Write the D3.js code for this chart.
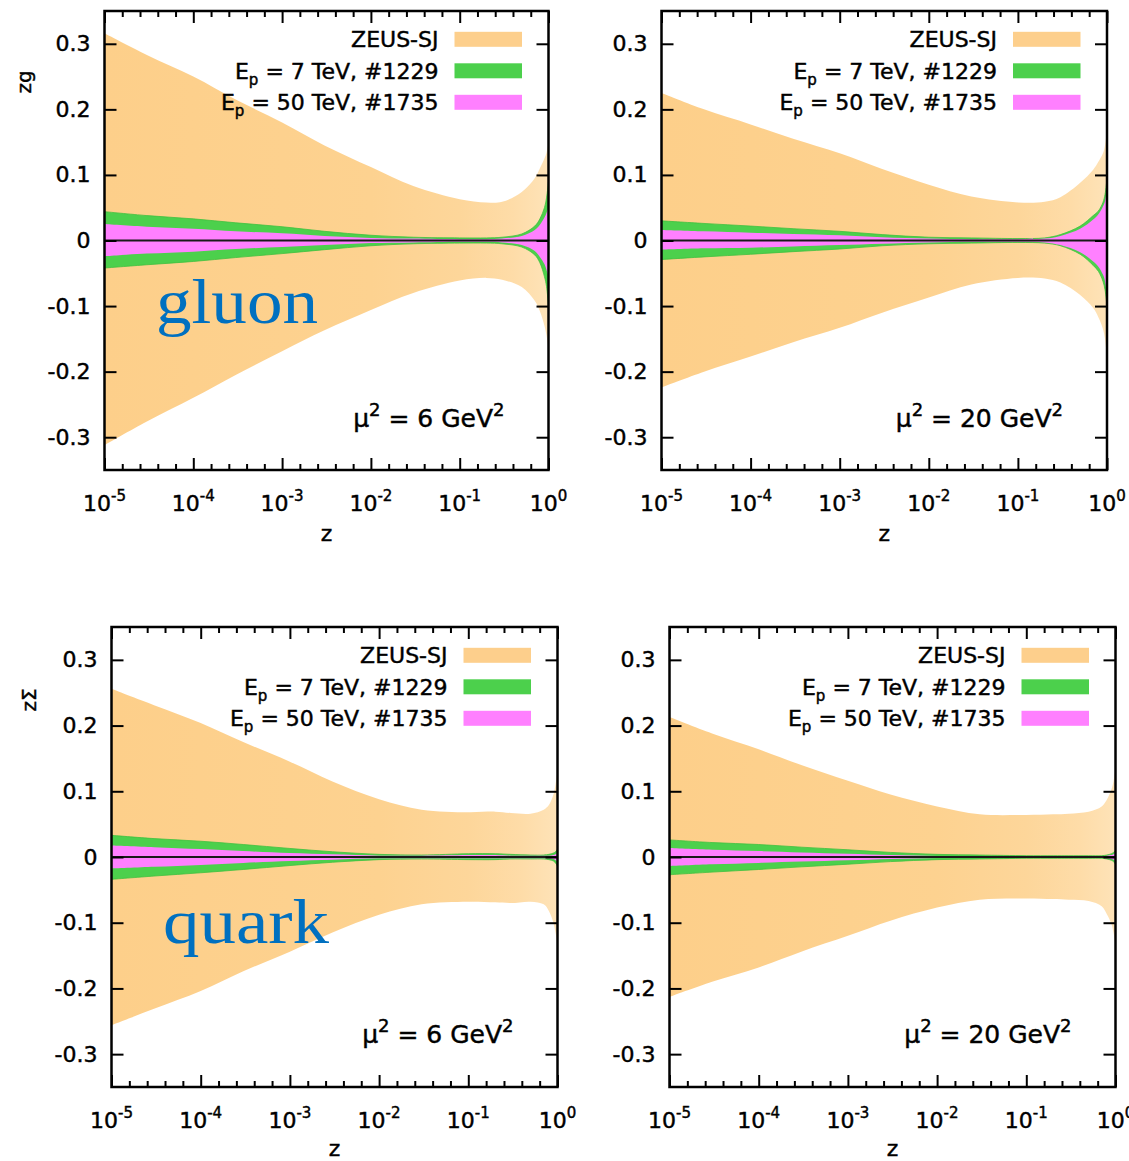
<!DOCTYPE html>
<html>
<head>
<meta charset="utf-8">
<script src="https://cdn.jsdelivr.net/npm/d3@7"></script>
<style>
body { margin: 0; background: #fff; }
svg text { font-family: "DejaVu Sans", Verdana, sans-serif; fill: #000; }
svg text.ink { stroke: #000; stroke-width: 0.45px; }
</style>
</head>
<body>
<script>
// z grid (log spaced at small z, denser near z = 1)
var zGrid = [1e-5, 3e-5, 1e-4, 3e-4, 1e-3, 3e-3, 1e-2, 3e-2, 0.1, 0.2, 0.3, 0.5, 0.7, 0.8, 0.9, 0.95, 1.0];

// gluon, mu^2 = 6 GeV^2
var g6ZeusHi  = [0.316, 0.283, 0.250, 0.215, 0.180, 0.145, 0.112, 0.083, 0.063, 0.058, 0.059, 0.074, 0.095, 0.110, 0.125, 0.134, 0.150];
var g6ZeusLo  = [-0.312, -0.276, -0.240, -0.205, -0.169, -0.137, -0.106, -0.080, -0.061, -0.057, -0.060, -0.071, -0.092, -0.108, -0.130, -0.145, -0.165];
var g6Tev7Hi  = [0.044, 0.038, 0.033, 0.027, 0.021, 0.014, 0.008, 0.005, 0.004, 0.004, 0.005, 0.010, 0.022, 0.033, 0.050, 0.065, 0.090];
var g6Tev7Lo  = [-0.042, -0.037, -0.032, -0.026, -0.020, -0.014, -0.008, -0.005, -0.004, -0.004, -0.005, -0.010, -0.022, -0.034, -0.055, -0.070, -0.100];
var g6Tev50Hi = [0.025, 0.021, 0.018, 0.014, 0.011, 0.007, 0.004, 0.003, 0.002, 0.002, 0.003, 0.007, 0.016, 0.024, 0.035, 0.042, 0.050];
var g6Tev50Lo = [-0.024, -0.020, -0.017, -0.013, -0.010, -0.007, -0.004, -0.003, -0.002, -0.002, -0.003, -0.007, -0.016, -0.025, -0.036, -0.045, -0.055];

// gluon, mu^2 = 20 GeV^2
var g20ZeusHi  = [0.225, 0.200, 0.177, 0.155, 0.133, 0.109, 0.085, 0.067, 0.058, 0.059, 0.066, 0.088, 0.108, 0.120, 0.133, 0.145, 0.170];
var g20ZeusLo  = [-0.224, -0.200, -0.177, -0.155, -0.133, -0.110, -0.087, -0.067, -0.057, -0.058, -0.064, -0.083, -0.103, -0.117, -0.135, -0.150, -0.180];
var g20Tev7Hi  = [0.030, 0.026, 0.022, 0.018, 0.014, 0.009, 0.005, 0.004, 0.003, 0.004, 0.009, 0.022, 0.038, 0.045, 0.058, 0.070, 0.095];
var g20Tev7Lo  = [-0.029, -0.025, -0.021, -0.017, -0.013, -0.008, -0.005, -0.004, -0.003, -0.004, -0.008, -0.021, -0.038, -0.047, -0.062, -0.075, -0.100];
var g20Tev50Hi = [0.016, 0.014, 0.012, 0.010, 0.008, 0.005, 0.003, 0.002, 0.002, 0.003, 0.007, 0.018, 0.032, 0.040, 0.052, 0.060, 0.080];
var g20Tev50Lo = [-0.014, -0.012, -0.011, -0.009, -0.007, -0.005, -0.003, -0.002, -0.002, -0.003, -0.007, -0.018, -0.032, -0.040, -0.052, -0.062, -0.085];

// quark singlet, mu^2 = 6 GeV^2
var q6ZeusHi  = [0.256, 0.231, 0.204, 0.175, 0.145, 0.115, 0.088, 0.072, 0.068, 0.069, 0.067, 0.066, 0.072, 0.079, 0.095, 0.110, 0.132];
var q6ZeusLo  = [-0.256, -0.231, -0.204, -0.174, -0.144, -0.115, -0.088, -0.072, -0.068, -0.069, -0.070, -0.068, -0.072, -0.082, -0.100, -0.115, -0.133];
var q6Tev7Hi  = [0.033, 0.028, 0.024, 0.019, 0.013, 0.008, 0.004, 0.003, 0.005, 0.005, 0.004, 0.003, 0.003, 0.004, 0.006, 0.008, 0.012];
var q6Tev7Lo  = [-0.034, -0.029, -0.024, -0.019, -0.013, -0.008, -0.004, -0.003, -0.004, -0.004, -0.003, -0.003, -0.003, -0.004, -0.006, -0.009, -0.014];
var q6Tev50Hi = [0.0175, 0.015, 0.012, 0.009, 0.006, 0.004, 0.002, 0.002, 0.003, 0.003, 0.002, 0.002, 0.002, 0.002, 0.003, 0.004, 0.006];
var q6Tev50Lo = [-0.0175, -0.015, -0.012, -0.009, -0.006, -0.004, -0.002, -0.002, -0.002, -0.002, -0.002, -0.002, -0.002, -0.002, -0.003, -0.005, -0.007];

// quark singlet, mu^2 = 20 GeV^2
var q20ZeusHi  = [0.213, 0.188, 0.164, 0.140, 0.116, 0.095, 0.077, 0.065, 0.064, 0.065, 0.066, 0.069, 0.077, 0.087, 0.103, 0.115, 0.135];
var q20ZeusLo  = [-0.213, -0.190, -0.168, -0.144, -0.120, -0.097, -0.077, -0.065, -0.063, -0.064, -0.065, -0.067, -0.075, -0.087, -0.102, -0.115, -0.135];
var q20Tev7Hi  = [0.026, 0.022, 0.019, 0.015, 0.011, 0.007, 0.004, 0.003, 0.002, 0.002, 0.002, 0.002, 0.002, 0.003, 0.005, 0.007, 0.010];
var q20Tev7Lo  = [-0.027, -0.023, -0.019, -0.015, -0.011, -0.007, -0.004, -0.003, -0.002, -0.002, -0.002, -0.002, -0.002, -0.003, -0.005, -0.007, -0.011];
var q20Tev50Hi = [0.0136, 0.011, 0.009, 0.007, 0.005, 0.003, 0.0015, 0.0015, 0.001, 0.001, 0.001, 0.001, 0.001, 0.002, 0.003, 0.004, 0.006];
var q20Tev50Lo = [-0.0136, -0.011, -0.009, -0.007, -0.005, -0.003, -0.0015, -0.0015, -0.001, -0.001, -0.001, -0.001, -0.001, -0.002, -0.003, -0.004, -0.006];

var yTicks = [-0.3, -0.2, -0.1, 0, 0.1, 0.2, 0.3];
var xDecades = [-5, -4, -3, -2, -1, 0];
var legendNames = ["ZEUS-SJ", "E_p = 7 TeV, #1229", "E_p = 50 TeV, #1735"];
var legendColors = ["#fdcf8c", "#4cd04c", "#ff80ff"];

var panels = [
  {left: 104.5, top: 11,  w: 444, h: 459, ylab: "zg", ylx: 24, yly: 82,  mu: "6",  tag: "gluon", tagLen: 162, tagY: 312, zY: 541,
   bands: [[g6ZeusLo, g6ZeusHi], [g6Tev7Lo, g6Tev7Hi], [g6Tev50Lo, g6Tev50Hi]]},
  {left: 661.5, top: 11,  w: 445.5, h: 459, ylab: null, mu: "20", zY: 541,
   bands: [[g20ZeusLo, g20ZeusHi], [g20Tev7Lo, g20Tev7Hi], [g20Tev50Lo, g20Tev50Hi]]},
  {left: 111.5, top: 627, w: 446, h: 460, ylab: "z\u03a3", ylx: 29, yly: 700, mu: "6", tag: "quark", tagLen: 166, tagY: 316, zY: 1156,
   bands: [[q6ZeusLo, q6ZeusHi], [q6Tev7Lo, q6Tev7Hi], [q6Tev50Lo, q6Tev50Hi]]},
  {left: 669.5, top: 627, w: 446, h: 460, ylab: null, mu: "20", zY: 1156,
   bands: [[q20ZeusLo, q20ZeusHi], [q20Tev7Lo, q20Tev7Hi], [q20Tev50Lo, q20Tev50Hi]]}
];

var svg = d3.select("body").append("svg")
  .attr("width", 1129)
  .attr("height", 1161);
var defs = svg.append("defs");

var minorTicks = [];
xDecades.slice(0, -1).forEach(function(k) {
  [0.2, 0.4, 0.6, 0.8].forEach(function(f) { minorTicks.push(Math.pow(10, k + f)); });
});

function styleAxis(sel) {
  sel.select(".domain").remove();
  sel.selectAll(".tick line").attr("stroke", "#000").attr("stroke-width", 2);
  sel.attr("font-family", null).attr("font-size", null);
}

panels.forEach(function(p, pi) {
  var x = d3.scaleLog().domain([1e-5, 1]).range([0, p.w]);
  var y = d3.scaleLinear().domain([-0.35, 0.35]).range([p.h, 0]);

  var g = svg.append("g").attr("transform", "translate(" + p.left + "," + p.top + ")");

  // orange band gets paler toward large z
  var grad = defs.append("linearGradient")
    .attr("id", "zeus" + pi)
    .attr("gradientUnits", "userSpaceOnUse")
    .attr("x1", x(1e-5)).attr("x2", x(1)).attr("y1", 0).attr("y2", 0);
  [[1e-5, "#fdcf8a"], [1e-2, "#fdd290"], [0.1, "#fdd69a"], [0.4, "#fedca8"], [1, "#fee3b8"]].forEach(function(s) {
    grad.append("stop").attr("offset", x(s[0]) / p.w).attr("stop-color", s[1]);
  });

  defs.append("clipPath").attr("id", "clip" + pi)
    .append("rect").attr("width", p.w).attr("height", p.h);

  var plot = g.append("g").attr("clip-path", "url(#clip" + pi + ")");
  var idx = d3.range(zGrid.length);
  var fills = ["url(#zeus" + pi + ")", legendColors[1], legendColors[2]];

  p.bands.forEach(function(b, bi) {
    var area = d3.area()
      .x(function(i) { return x(zGrid[i]); })
      .y0(function(i) { return y(b[0][i]); })
      .y1(function(i) { return y(b[1][i]); })
      .curve(d3.curveCatmullRom.alpha(0.5));
    plot.append("path").datum(idx)
      .attr("d", area)
      .attr("fill", fills[bi])
      .attr("stroke", bi == 1 ? "#40c040" : "none")
      .attr("stroke-width", 0.8);
  });

  plot.append("line")
    .attr("x1", x(1e-5)).attr("x2", x(1))
    .attr("y1", y(0)).attr("y2", y(0))
    .attr("stroke", "#1a1a1a").attr("stroke-width", 2);

  // axes, ticks inward
  var yl = g.append("g").call(d3.axisLeft(y).tickValues(yTicks).tickSize(-12).tickPadding(14)
    .tickFormat(function(d) { return String(Math.round(d * 10) / 10); }));
  styleAxis(yl);
  yl.selectAll("text").attr("font-size", 22).attr("class", "ink");

  var yr = g.append("g").attr("transform", "translate(" + p.w + ",0)")
    .call(d3.axisRight(y).tickValues(yTicks).tickSize(-12).tickFormat(""));
  styleAxis(yr);

  var majors = xDecades.map(function(k) { return Math.pow(10, k); });
  [["bottom", p.h, 12], ["bottom", p.h, 6], ["top", 0, 12], ["top", 0, 6]].forEach(function(a) {
    var ax = (a[0] == "bottom" ? d3.axisBottom(x) : d3.axisTop(x))
      .tickValues(a[2] == 12 ? majors : minorTicks)
      .tickSize(-a[2]).tickFormat("");
    var s = g.append("g").attr("transform", "translate(0," + a[1] + ")").call(ax);
    styleAxis(s);
  });

  // decade labels with superscripts
  var xl = g.append("g");
  xDecades.forEach(function(k) {
    var t = xl.append("text")
      .attr("class", "ink")
      .attr("x", x(Math.pow(10, k)))
      .attr("y", p.h + 41)
      .attr("text-anchor", "middle")
      .attr("font-size", 22);
    t.append("tspan").text("10");
    t.append("tspan").attr("font-size", 15).attr("dy", -10).text(String(k));
  });

  g.append("text")
    .attr("class", "ink")
    .attr("x", p.w / 2).attr("y", p.zY - p.top)
    .attr("text-anchor", "middle").attr("font-size", 22)
    .text("z");

  // legend
  legendNames.forEach(function(name, li) {
    var cy = 28.3 + li * 31.5;
    var t = g.append("text")
      .attr("class", "ink")
      .attr("x", p.w - 110).attr("y", cy + 8)
      .attr("text-anchor", "end").attr("font-size", 22);
    var parts = name.split("_p");
    if (parts.length > 1) {
      t.append("tspan").text(parts[0]);
      t.append("tspan").attr("font-size", 15).attr("dy", 6).text("p");
      t.append("tspan").attr("dy", -6).text(parts[1]);
    } else {
      t.text(name);
    }
    g.append("rect")
      .attr("x", p.w - 94).attr("y", cy - 7.5)
      .attr("width", 67.5).attr("height", 15)
      .attr("fill", legendColors[li]);
  });

  // scale annotation
  var mu = g.append("text")
    .attr("class", "ink")
    .attr("x", p.w - 44).attr("y", 416)
    .attr("text-anchor", "end").attr("font-size", 25);
  mu.append("tspan").text("\u03bc");
  mu.append("tspan").attr("font-size", 18).attr("dy", -11).text("2");
  mu.append("tspan").attr("dy", 11).text(" = " + p.mu + " GeV");
  mu.append("tspan").attr("font-size", 18).attr("dy", -11).text("2");

  if (p.tag) {
    g.append("text")
      .attr("x", 51.5).attr("y", p.tagY)
      .attr("font-size", 64)
      .attr("textLength", p.tagLen)
      .attr("lengthAdjust", "spacingAndGlyphs")
      .style("font-family", "'Liberation Serif', 'DejaVu Serif', serif")
      .style("fill", "#0070c0")
      .text(p.tag);
  }

  g.append("rect")
    .attr("width", p.w).attr("height", p.h)
    .attr("fill", "none").attr("stroke", "#000").attr("stroke-width", 2.5);

  if (p.ylab) {
    svg.append("text")
      .attr("class", "ink")
      .attr("transform", "translate(" + p.ylx + "," + p.yly + ") rotate(-90)")
      .attr("text-anchor", "middle").attr("dy", "0.35em")
      .attr("font-size", 20)
      .text(p.ylab);
  }
});
</script>
</body>
</html>
